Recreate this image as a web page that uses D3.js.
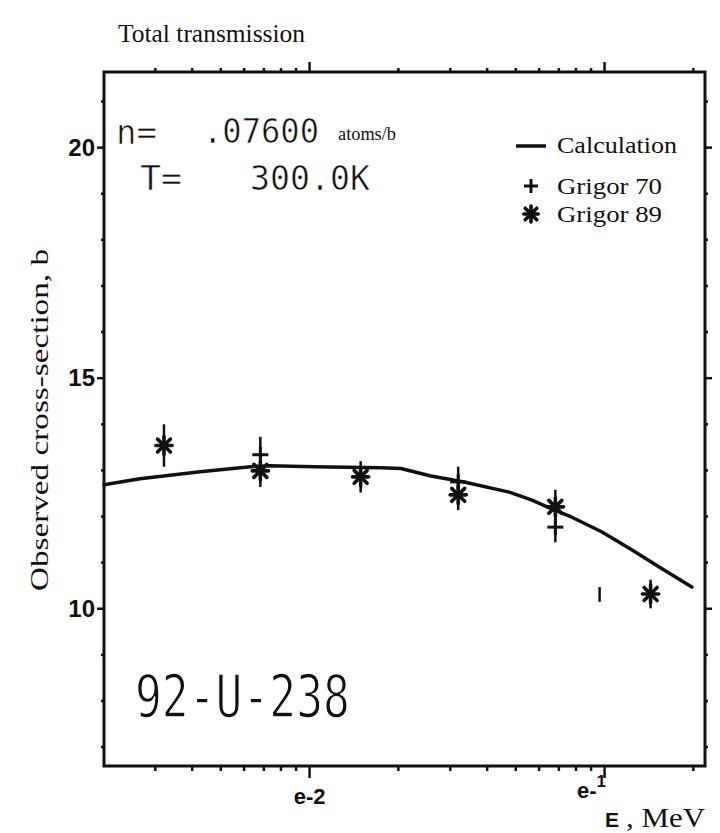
<!DOCTYPE html>
<html>
<head>
<meta charset="utf-8">
<script src="https://cdn.jsdelivr.net/npm/d3@7/dist/d3.min.js"></script>
<style>
  html, body { margin: 0; padding: 0; background: #fff; }
  svg { display: block; }
</style>
</head>
<body>
<script>
// ---------- data ----------
const calcEnergy = [0.00201, 0.00266, 0.00426, 0.0063, 0.00736, 0.0103, 0.0174, 0.0204, 0.0258, 0.0334, 0.0475, 0.0565, 0.0676, 0.0772, 0.0977, 0.1236, 0.1527, 0.1976];
const calcSigma  = [12.69, 12.82, 12.97, 13.08, 13.10, 13.08, 13.06, 13.04, 12.88, 12.75, 12.53, 12.36, 12.14, 11.99, 11.67, 11.28, 10.91, 10.47];

const g70Energy = [0.00681, 0.0319, 0.0681];
const g70Sigma  = [13.34, 12.75, 11.77];
const g70Err    = [0.39, 0.33, 0.33];

const g89Energy = [0.00321, 0.00681, 0.0149, 0.0319, 0.0681, 0.1432];
const g89Sigma  = [13.54, 12.99, 12.86, 12.47, 12.21, 10.32];
const g89Err    = [0.46, 0.35, 0.34, 0.33, 0.37, 0.31];

const barOnlyEnergy = [0.0962];
const barOnlySigma  = [10.31];
const barOnlyErr    = [0.16];

const yTickValues = [10, 15, 20];
const yTickLabels = ["10", "15", "20"];
const xMajorValues = [0.01, 0.1];
const xMinorValues = [0.003,0.004,0.005,0.006,0.007,0.008,0.009,0.02,0.03,0.04,0.05,0.06,0.07,0.08,0.09,0.2];
const yMinorValues = [7,8,9,11,12,13,14,16,17,18,19,21];

const titleText = "Total transmission";
const yLabelText = "Observed cross-section, b";
const legendLabels = ["Calculation", "Grigor 70", "Grigor 89"];

// ---------- layout ----------
const W = 720, H = 833;
const L = 104, R = 705, T = 72, B = 766;

const svg = d3.select("body").append("svg").attr("width", W).attr("height", H);

const x = d3.scaleLog().domain([0.00201, 0.219]).range([L, R]);
const y = d3.scaleLinear().domain([6.59, 21.64]).range([B, T]);

const ink = "#111";
const serif = "Liberation Serif, Times New Roman, serif";
const sansB = "Liberation Sans, Arial, sans-serif";
const mono = "DejaVu Sans Mono, Liberation Mono, monospace";

// frame
svg.append("rect").attr("x", L).attr("y", T).attr("width", R - L).attr("height", B - T)
  .attr("fill", "none").attr("stroke", ink).attr("stroke-width", 3);

// bottom axis ticks (outward)
const gb = svg.append("g");
gb.selectAll("line.mn").data(xMinorValues).enter().append("line")
  .attr("x1", d => x(d)).attr("x2", d => x(d)).attr("y1", B).attr("y2", B + 5)
  .attr("stroke", ink).attr("stroke-width", 2.5);
gb.selectAll("line.mj").data(xMajorValues).enter().append("line")
  .attr("x1", d => x(d)).attr("x2", d => x(d)).attr("y1", B).attr("y2", B + 12)
  .attr("stroke", ink).attr("stroke-width", 2.5);
// top axis ticks (outward)
const gt = svg.append("g");
gt.selectAll("line.mn").data(xMinorValues).enter().append("line")
  .attr("x1", d => x(d)).attr("x2", d => x(d)).attr("y1", T).attr("y2", T - 4)
  .attr("stroke", ink).attr("stroke-width", 2.5);
gt.selectAll("line.mj").data(xMajorValues).enter().append("line")
  .attr("x1", d => x(d)).attr("x2", d => x(d)).attr("y1", T).attr("y2", T - 10)
  .attr("stroke", ink).attr("stroke-width", 2.5);

// left / right ticks
[[L, -1], [R, 1]].forEach(([xx, dir]) => {
  const g = svg.append("g");
  g.selectAll("line.mj").data(yTickValues).enter().append("line")
    .attr("x1", xx).attr("x2", xx + dir * 7).attr("y1", d => y(d)).attr("y2", d => y(d))
    .attr("stroke", ink).attr("stroke-width", 2.5);
  g.selectAll("line.mn").data(yMinorValues).enter().append("line")
    .attr("x1", xx).attr("x2", xx + dir * 3).attr("y1", d => y(d)).attr("y2", d => y(d))
    .attr("stroke", ink).attr("stroke-width", 2.5);
});

// y tick labels
svg.append("g").selectAll("text").data(yTickValues).enter().append("text")
  .attr("x", L - 9).attr("y", d => y(d) + 8).attr("text-anchor", "end")
  .attr("font-family", sansB).attr("font-weight", "bold")
  .attr("font-size", 24).attr("fill", ink)
  .text((d, i) => yTickLabels[i]);

// x tick labels
const xl = svg.append("g").attr("font-family", sansB)
  .attr("font-weight", "bold").attr("fill", ink);
xl.append("text").attr("x", x(0.01)).attr("y", 804).attr("text-anchor", "middle")
  .attr("font-size", 22).text("e-2");
const t1 = xl.append("text").attr("x", x(0.1) - 13).attr("y", 798).attr("text-anchor", "middle")
  .attr("font-size", 22);
t1.append("tspan").text("e-");
t1.append("tspan").attr("dy", -11).attr("font-size", 17).text("1");
svg.append("text").attr("x", 605).attr("y", 827)
  .attr("font-family", sansB).attr("font-weight", "bold").attr("font-size", 21).attr("fill", ink)
  .text("E");
svg.append("text").attr("x", 626).attr("y", 827)
  .attr("font-family", serif).attr("font-size", 27).attr("fill", ink)
  .attr("textLength", 79).attr("lengthAdjust", "spacingAndGlyphs")
  .text(", MeV");

// title
svg.append("text").attr("x", 118).attr("y", 42)
  .attr("font-family", serif).attr("font-size", 25).attr("fill", ink)
  .attr("textLength", 187).attr("lengthAdjust", "spacingAndGlyphs")
  .text(titleText);

// y label
svg.append("text").attr("transform", `translate(48,${(248 + 592) / 2}) rotate(-90)`)
  .attr("text-anchor", "middle")
  .attr("font-family", serif).attr("font-size", 25).attr("fill", ink)
  .attr("textLength", 342).attr("lengthAdjust", "spacingAndGlyphs")
  .text(yLabelText);

// annotations (plotter font)
function ptext(txt, xx, yy, size, len, thin) {
  return svg.append("text").attr("x", xx).attr("y", yy).attr("font-family", mono)
    .attr("font-size", size).attr("fill", ink).attr("textLength", len)
    .attr("stroke", "#fff").attr("stroke-width", thin)
    .attr("lengthAdjust", "spacingAndGlyphs").text(txt);
}
ptext("n=", 116, 144, 33, 41, 0.6);
ptext(".07600", 203, 143, 34, 116, 0.6);
svg.append("text").attr("x", 338).attr("y", 140)
  .attr("font-family", serif).attr("font-size", 18).attr("fill", ink)
  .attr("textLength", 58).attr("lengthAdjust", "spacingAndGlyphs")
  .text("atoms/b");
ptext("T=", 140, 190, 33, 42, 0.6);
ptext("300.0K", 250, 190, 34, 120, 0.6);
ptext("92-U-238", 135, 717, 58, 215, 1.4);

// calculation curve
const line = d3.line().x(d => x(d[0])).y(d => y(d[1])).curve(d3.curveLinear);
svg.append("path").datum(calcEnergy.map((e, i) => [e, calcSigma[i]]))
  .attr("d", line).attr("fill", "none").attr("stroke", ink).attr("stroke-width", 3.5)
  .attr("stroke-linejoin", "round").attr("stroke-linecap", "round");

// markers
function star(g, cx, cy, s) {
  const a = s, d = s * 0.72;
  const segs = [[0, -a, 0, a], [-a * 0.9, 0, a * 0.9, 0], [-d, -d, d, d], [-d, d, d, -d]];
  segs.forEach(p => g.append("line").attr("x1", cx + p[0]).attr("y1", cy + p[1])
    .attr("x2", cx + p[2]).attr("y2", cy + p[3]).attr("stroke", ink).attr("stroke-width", 3.6)
    .attr("stroke-linecap", "round"));
}
function plus(g, cx, cy, s) {
  g.append("line").attr("x1", cx - s).attr("x2", cx + s).attr("y1", cy).attr("y2", cy)
    .attr("stroke", ink).attr("stroke-width", 3);
  g.append("line").attr("x1", cx).attr("x2", cx).attr("y1", cy - s).attr("y2", cy + s)
    .attr("stroke", ink).attr("stroke-width", 3);
}
function errbar(g, e, v, err) {
  g.append("line").attr("x1", x(e)).attr("x2", x(e)).attr("y1", y(v - err)).attr("y2", y(v + err))
    .attr("stroke", ink).attr("stroke-width", 2.5);
}

const gp = svg.append("g");
g70Energy.forEach((e, i) => { errbar(gp, e, g70Sigma[i], g70Err[i]); plus(gp, x(e), y(g70Sigma[i]), 8); });
g89Energy.forEach((e, i) => { errbar(gp, e, g89Sigma[i], g89Err[i]); star(gp, x(e), y(g89Sigma[i]), 9); });
barOnlyEnergy.forEach((e, i) => errbar(gp, e, barOnlySigma[i], barOnlyErr[i]));

// legend
const lg = svg.append("g");
lg.append("line").attr("x1", 516).attr("x2", 546).attr("y1", 146).attr("y2", 146)
  .attr("stroke", ink).attr("stroke-width", 3.5);
plus(lg, 531, 186, 7);
star(lg, 531, 214, 8);
const legendLens = [120, 105, 105];
[153, 194, 222].forEach((yy, i) => lg.append("text").attr("x", 557).attr("y", yy)
  .attr("font-family", serif).attr("font-size", 23).attr("fill", ink)
  .attr("textLength", legendLens[i]).attr("lengthAdjust", "spacingAndGlyphs")
  .text(legendLabels[i]));
</script>
</body>
</html>
